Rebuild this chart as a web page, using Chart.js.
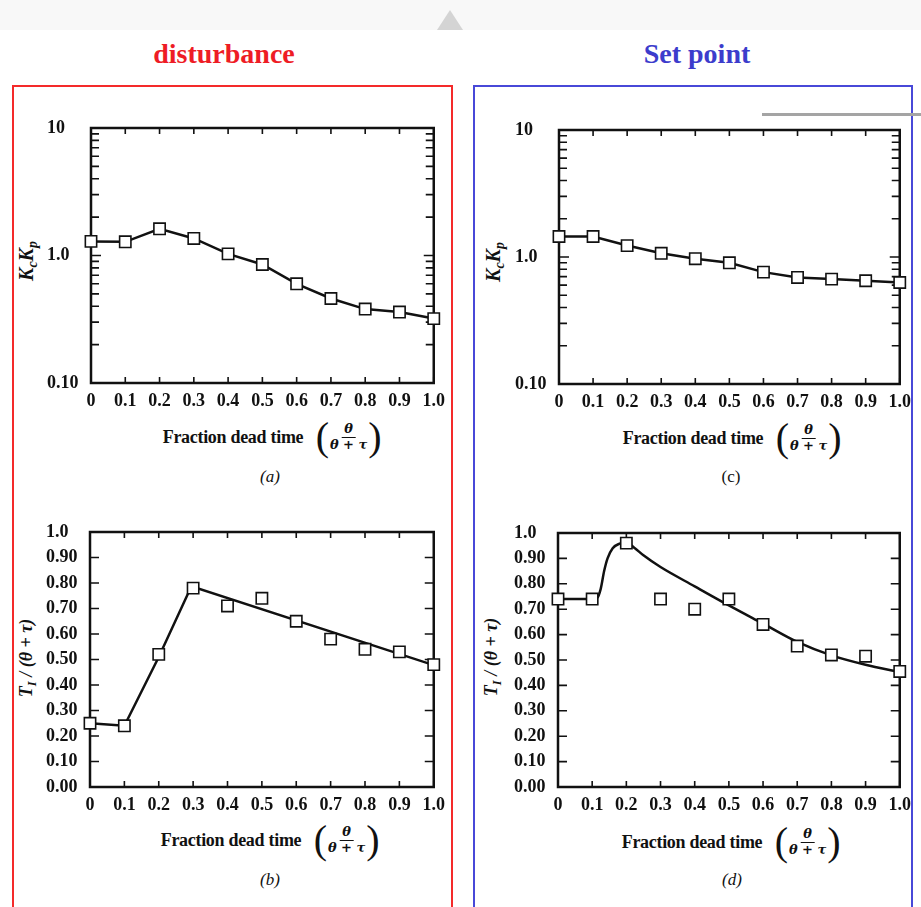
<!DOCTYPE html>
<html>
<head>
<meta charset="utf-8">
<script src="https://cdn.jsdelivr.net/npm/chart.js@4.4.0/dist/chart.umd.min.js"></script>
<style>
body { margin:0; width:921px; height:907px; overflow:hidden; background:#fff; position:relative; font-family:'Liberation Serif', serif; color:#111; }
.topbar { position:absolute; left:0; top:0; width:921px; height:30px; background:#f8f8f8; }
.tri { position:absolute; left:437px; top:10px; width:0; height:0; border-left:13px solid transparent; border-right:13px solid transparent; border-bottom:20px solid #d4d4d4; }
.head { position:absolute; top:54px; font-weight:bold; font-size:28px; transform:translate(-50%,-50%); white-space:nowrap; }
.frame { position:absolute; top:85px; height:840px; box-sizing:border-box; border:2px solid; }
.grey { position:absolute; left:762px; top:113px; width:159px; height:3px; background:#a4a4a4; }
canvas { position:absolute; }
.xt { position:absolute; transform:translate(-50%,-50%); white-space:nowrap; font-weight:bold; font-size:18px; display:flex; align-items:center; letter-spacing:-0.3px; }
.paren { font-size:40px; font-weight:normal; line-height:1; }
.frac { display:inline-flex; flex-direction:column; align-items:center; font-family:'DejaVu Serif', serif; font-style:italic; font-size:13px; line-height:1.15; margin:0 1px; letter-spacing:0; }
.frac .num { border-bottom:1.5px solid #111; padding:0 3px; }
.yt { position:absolute; transform:translate(-50%,-50%) rotate(-90deg); font-style:italic; font-weight:bold; font-size:18px; white-space:nowrap; }
.yt sub { font-size:0.7em; vertical-align:-0.25em; }
.cap { position:absolute; transform:translate(-50%,-50%); font-size:17px; }
</style>
</head>
<body>
<div class="topbar"></div>
<div class="tri"></div>
<div class="head" style="left:224px;color:#ee1c25">disturbance</div>
<div class="head" style="left:697px;color:#3c3ccc">Set point</div>
<div class="frame" style="left:12px;width:441px;border-color:#f42a2a"></div>
<div class="frame" style="left:473px;width:440px;border-color:#4848d8"></div>
<div class="grey"></div>

<div class="yt" style="left:28px;top:261px;font-size:20px">K<sub>c</sub>K<sub>p</sub></div>
<div class="yt" style="left:495px;top:262px;font-size:20px">K<sub>c</sub>K<sub>p</sub></div>
<div class="yt" style="left:28px;top:658px">T<sub>I</sub> / (θ + τ)</div>
<div class="yt" style="left:493px;top:657px">T<sub>I</sub> / (θ + τ)</div>

<div class="xt" style="left:272px;top:437px">Fraction dead time&nbsp;&nbsp;&nbsp;<span class="paren">(</span><span class="frac"><span class="num">θ</span><span>θ + τ</span></span><span class="paren">)</span></div>
<div class="xt" style="left:732px;top:438px">Fraction dead time&nbsp;&nbsp;&nbsp;<span class="paren">(</span><span class="frac"><span class="num">θ</span><span>θ + τ</span></span><span class="paren">)</span></div>
<div class="xt" style="left:270px;top:840px">Fraction dead time&nbsp;&nbsp;&nbsp;<span class="paren">(</span><span class="frac"><span class="num">θ</span><span>θ + τ</span></span><span class="paren">)</span></div>
<div class="xt" style="left:731px;top:842px">Fraction dead time&nbsp;&nbsp;&nbsp;<span class="paren">(</span><span class="frac"><span class="num">θ</span><span>θ + τ</span></span><span class="paren">)</span></div>

<div class="cap" style="left:270px;top:477px"><i>(a)</i></div>
<div class="cap" style="left:731px;top:477px">(c)</div>
<div class="cap" style="left:270px;top:880px"><i>(b)</i></div>
<div class="cap" style="left:732px;top:880px"><i>(d)</i></div>

<script>
// axis ticks
const xTicks = [0, 0.1, 0.2, 0.3, 0.4, 0.5, 0.6, 0.7, 0.8, 0.9, 1.0]
const xTickLabels = ['0', '0.1', '0.2', '0.3', '0.4', '0.5', '0.6', '0.7', '0.8', '0.9', '1.0']
const logMajor = [0.1, 1, 10]
const logMajorLabels = ['0.10', '1.0', '10']
const logMinor = [0.2, 0.3, 0.4, 0.5, 0.6, 0.7, 0.8, 0.9, 2, 3, 4, 5, 6, 7, 8, 9]
const linTicks = [0, 0.1, 0.2, 0.3, 0.4, 0.5, 0.6, 0.7, 0.8, 0.9, 1.0]
const linTickLabels = ['0.00', '0.10', '0.20', '0.30', '0.40', '0.50', '0.60', '0.70', '0.80', '0.90', '1.0']

// measured points
const fraction = [0, 0.1, 0.2, 0.3, 0.4, 0.5, 0.6, 0.7, 0.8, 0.9, 1.0]
const distKcKp = [1.29, 1.28, 1.62, 1.36, 1.03, 0.85, 0.60, 0.46, 0.38, 0.36, 0.32]
const setKcKp = [1.45, 1.45, 1.23, 1.07, 0.97, 0.90, 0.76, 0.69, 0.67, 0.65, 0.63]
const distTI = [0.25, 0.24, 0.52, 0.78, 0.71, 0.74, 0.65, 0.58, 0.54, 0.53, 0.48]
const setTI = [0.74, 0.74, 0.96, 0.74, 0.70, 0.74, 0.64, 0.555, 0.52, 0.515, 0.455]

// fitted curves
const distFitX = [0, 0.1, 0.2, 0.295, 1.0]
const distFitY = [0.25, 0.24, 0.51, 0.787, 0.478]
const setFitX = [0, 0.1, 0.115, 0.125, 0.135, 0.145, 0.16, 0.18, 0.2, 0.225, 0.25, 0.3, 0.4, 0.5, 0.6, 0.7, 0.8, 0.9, 1.0]
const setFitY = [0.74, 0.74, 0.745, 0.78, 0.85, 0.9, 0.94, 0.958, 0.962, 0.94, 0.912, 0.866, 0.79, 0.715, 0.643, 0.571, 0.518, 0.481, 0.452]

const INK = '#111'
const tickFont = { family: 'Liberation Serif', size: 18, weight: 'bold' }

function pts(xs, ys) {
  return xs.map((x, i) => ({ x: x, y: ys[i] }))
}

function markers(ys, line) {
  return {
    data: pts(fraction, ys),
    showLine: line,
    borderColor: INK,
    borderWidth: 2.5,
    pointStyle: 'rect',
    pointRadius: 8,
    pointBorderWidth: 1.6,
    pointBorderColor: INK,
    pointBackgroundColor: '#fff',
    clip: false
  }
}

function fitLine(xs, ys, smooth) {
  return {
    data: pts(xs, ys),
    showLine: true,
    borderColor: INK,
    borderWidth: 2.5,
    pointRadius: 0,
    cubicInterpolationMode: smooth ? 'monotone' : 'default',
    tension: 0
  }
}

const framePlugin = {
  id: 'frame',
  beforeDatasetsDraw(chart, args, opts) {
    const ctx = chart.ctx
    const a = chart.chartArea
    const x = chart.scales.x
    const y = chart.scales.y
    ctx.save()
    ctx.strokeStyle = INK
    ctx.lineWidth = 2.5
    ctx.strokeRect(a.left, a.top, a.width, a.height)
    ctx.lineWidth = 1.6
    ctx.beginPath()
    xTicks.forEach(v => {
      const px = x.getPixelForValue(v)
      ctx.moveTo(px, a.bottom); ctx.lineTo(px, a.bottom - 6)
      ctx.moveTo(px, a.top); ctx.lineTo(px, a.top + 6)
    })
    let yt
    if (opts.log) {
      yt = logMajor.map(v => [v, 10]).concat(logMinor.map(v => [v, 8]))
    } else {
      yt = linTicks.map(v => [v, 9])
    }
    yt.forEach(t => {
      const py = y.getPixelForValue(t[0])
      ctx.moveTo(a.left, py); ctx.lineTo(a.left + t[1], py)
      ctx.moveTo(a.right, py); ctx.lineTo(a.right - t[1], py)
    })
    ctx.stroke()
    ctx.restore()
  }
}

function makeChart(p) {
  const c = document.createElement('canvas')
  const w = p.r - p.l + 44 + 15
  const h = p.b - p.t + 15 + 35
  c.width = w
  c.height = h
  c.style.left = (p.l - 44) + 'px'
  c.style.top = (p.t - 15) + 'px'
  document.body.appendChild(c)

  let yScale
  if (p.log) {
    yScale = {
      type: 'logarithmic', min: 0.1, max: 10,
      afterBuildTicks: s => { s.ticks = logMajor.map(v => ({ value: v })) },
      ticks: { callback: (v, i) => logMajorLabels[i] }
    }
  } else {
    yScale = {
      type: 'linear', min: 0, max: 1,
      afterBuildTicks: s => { s.ticks = linTicks.map(v => ({ value: v })) },
      ticks: { callback: (v, i) => linTickLabels[i] }
    }
  }
  yScale.grid = { display: false, drawTicks: false }
  yScale.border = { display: false }
  yScale.afterFit = s => { s.width = 44 }
  Object.assign(yScale.ticks, { crossAlign: 'far', padding: 0, color: INK, font: tickFont, autoSkip: false })

  new Chart(c, {
    type: 'scatter',
    data: { datasets: p.datasets },
    options: {
      responsive: false,
      animation: false,
      devicePixelRatio: 1,
      layout: { padding: { top: 15, right: 15, left: 0, bottom: 0 } },
      plugins: { legend: { display: false }, tooltip: { enabled: false }, frame: { log: p.log } },
      scales: {
        x: {
          type: 'linear', min: 0, max: 1,
          grid: { display: false, drawTicks: false },
          border: { display: false },
          afterBuildTicks: s => { s.ticks = xTicks.map(v => ({ value: v })) },
          afterFit: s => { s.height = 35 },
          ticks: { padding: 8, maxRotation: 0, autoSkip: false, color: INK, font: tickFont,
            callback: (v, i) => xTickLabels[i] }
        },
        y: yScale
      }
    },
    plugins: [framePlugin]
  })
}

makeChart({ l: 91, t: 128, r: 438, b: 383, log: true, datasets: [markers(distKcKp, true)] })
makeChart({ l: 559, t: 130, r: 904, b: 384, log: true, datasets: [markers(setKcKp, true)] })
makeChart({ l: 90, t: 532, r: 438, b: 787, log: false,
  datasets: [markers(distTI, false), fitLine(distFitX, distFitY, false)] })
makeChart({ l: 558, t: 533, r: 904, b: 787, log: false,
  datasets: [markers(setTI, false), fitLine(setFitX, setFitY, true)] })
</script>
</body>
</html>
